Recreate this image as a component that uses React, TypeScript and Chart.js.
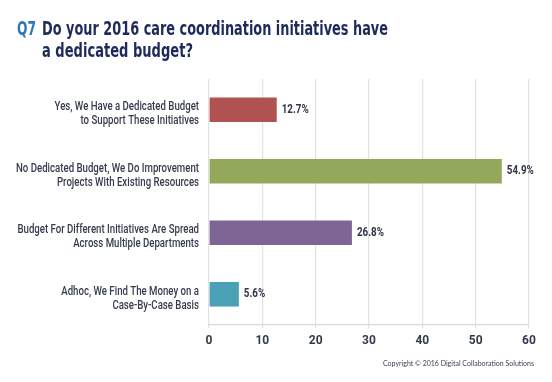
import React, { useEffect, useRef } from "react";
import { Chart, registerables } from "chart.js";
Chart.register(...registerables);

const categories: string[][] = [
  ["Yes, We Have a Dedicated Budget", "to Support These Initiatives"],
  ["No Dedicated Budget, We Do Improvement", "Projects With Existing Resources"],
  ["Budget For Different Initiatives Are Spread", "Across Multiple Departments"],
  ["Adhoc, We Find The Money on a", "Case-By-Case Basis"],
];
const values: number[] = [12.7, 54.9, 26.8, 5.6];
const barColors: string[] = ["#b0524f", "#93a85a", "#7e6596", "#4aa0b5"];
const xMin = 0;
const xMax = 60;
const xStep = 10;
const titleQ = "Q7";
const titleLines: string[] = ["Do your 2016 care coordination initiatives have", "a dedicated budget?"];
const copyright = "Copyright \u00a9 2016 Digital Collaboration Solutions";

const NARROW = '"DejaVu Sans Condensed", "Roboto", sans-serif';
const LABEL_FONT = '"Roboto", "DejaVu Sans Condensed", sans-serif';

function fitText(ctx: CanvasRenderingContext2D, text: string, x: number, y: number, w: number) {
  const m = ctx.measureText(text).width;
  ctx.save();
  ctx.translate(x, y);
  ctx.scale(w / m, 1);
  ctx.fillText(text, 0, 0);
  ctx.restore();
}

function scaledText(ctx: CanvasRenderingContext2D, text: string, x: number, y: number, k: number) {
  ctx.save();
  ctx.translate(x, y);
  ctx.scale(k, 1);
  ctx.fillText(text, 0, 0);
  ctx.restore();
}

const decorPlugin = {
  id: "decor",
  afterDatasetsDraw(chart: any) {
    const ctx: CanvasRenderingContext2D = chart.ctx;
    const meta = chart.getDatasetMeta(0);
    ctx.save();
    ctx.font = `bold 12.5px ${LABEL_FONT}`;
    ctx.fillStyle = "#2f3547";
    ctx.textAlign = "left";
    ctx.textBaseline = "middle";
    const kv = 27 / ctx.measureText("54.9%").width;
    meta.data.forEach((bar: any, i: number) => {
      scaledText(ctx, values[i].toFixed(1) + "%", bar.x + 5, bar.y, kv);
    });
    ctx.restore();

    // category labels
    const yScale = chart.scales.y;
    ctx.save();
    ctx.font = `500 12px ${LABEL_FONT}`;
    ctx.fillStyle = "#363c4e";
    ctx.textAlign = "right";
    ctx.textBaseline = "alphabetic";
    const k = 183 / ctx.measureText(categories[1][0]).width;
    categories.forEach((lines, i) => {
      const yc = yScale.getPixelForTick(i);
      lines.forEach((line, j) => {
        scaledText(ctx, line, 199, yc + 0.5 + j * 13.8, k);
      });
    });
    ctx.restore();
  },
  afterDraw(chart: any) {
    const ctx: CanvasRenderingContext2D = chart.ctx;
    ctx.save();
    ctx.textAlign = "left";
    ctx.textBaseline = "alphabetic";
    ctx.font = `bold 20px ${NARROW}`;
    ctx.fillStyle = "#2b78b9";
    fitText(ctx, titleQ, 17, 35, 19);
    ctx.fillStyle = "#1e2a5c";
    fitText(ctx, titleLines[0], 42, 35, 346);
    fitText(ctx, titleLines[1], 42, 57, 151);
    ctx.font = `8px "Lato", "Open Sans", sans-serif`;
    ctx.fillStyle = "#3a3f4f";
    fitText(ctx, copyright, 383, 366, 151);
    ctx.restore();
  },
};

export default function App() {
  const ref = useRef<HTMLCanvasElement | null>(null);
  useEffect(() => {
    if (!ref.current) return;
    const chart = new Chart(ref.current, {
      type: "bar",
      data: {
        labels: categories,
        datasets: [
          {
            data: values,
            backgroundColor: barColors,
            barPercentage: 0.8,
            categoryPercentage: 0.5,
          },
        ],
      },
      options: {
        indexAxis: "y",
        responsive: false,
        animation: false,
        devicePixelRatio: 1,
        layout: { padding: { top: 79, right: 23, left: 0, bottom: 0 } },
        plugins: { legend: { display: false }, tooltip: { enabled: false }, title: { display: false } },
        scales: {
          x: {
            min: xMin,
            max: xMax,
            ticks: {
              stepSize: xStep,
              color: "#333a4a",
              font: { family: '"Roboto", "Open Sans", sans-serif', size: 12, weight: "bold" },
              padding: 6,
            },
            grid: { color: "#e2e2e2", lineWidth: 1.2, tickLength: 3 },
            border: { display: true, color: "#dadada", width: 1.2 },
            afterFit: (scale: any) => {
              scale.height = 57;
            },
          },
          y: {
            grid: { display: false, drawTicks: false },
            border: { display: false },
            ticks: { display: false },
            afterFit: (scale: any) => {
              scale.width = 209;
            },
          },
        },
      },
      plugins: [decorPlugin],
    } as any);
    return () => chart.destroy();
  }, []);
  return (
    <div style={{ position: "absolute", left: 0, top: 0, width: 552, height: 382, background: "#fff" }}>
      <canvas ref={ref} width={552} height={382} style={{ display: "block" }} />
    </div>
  );
}
